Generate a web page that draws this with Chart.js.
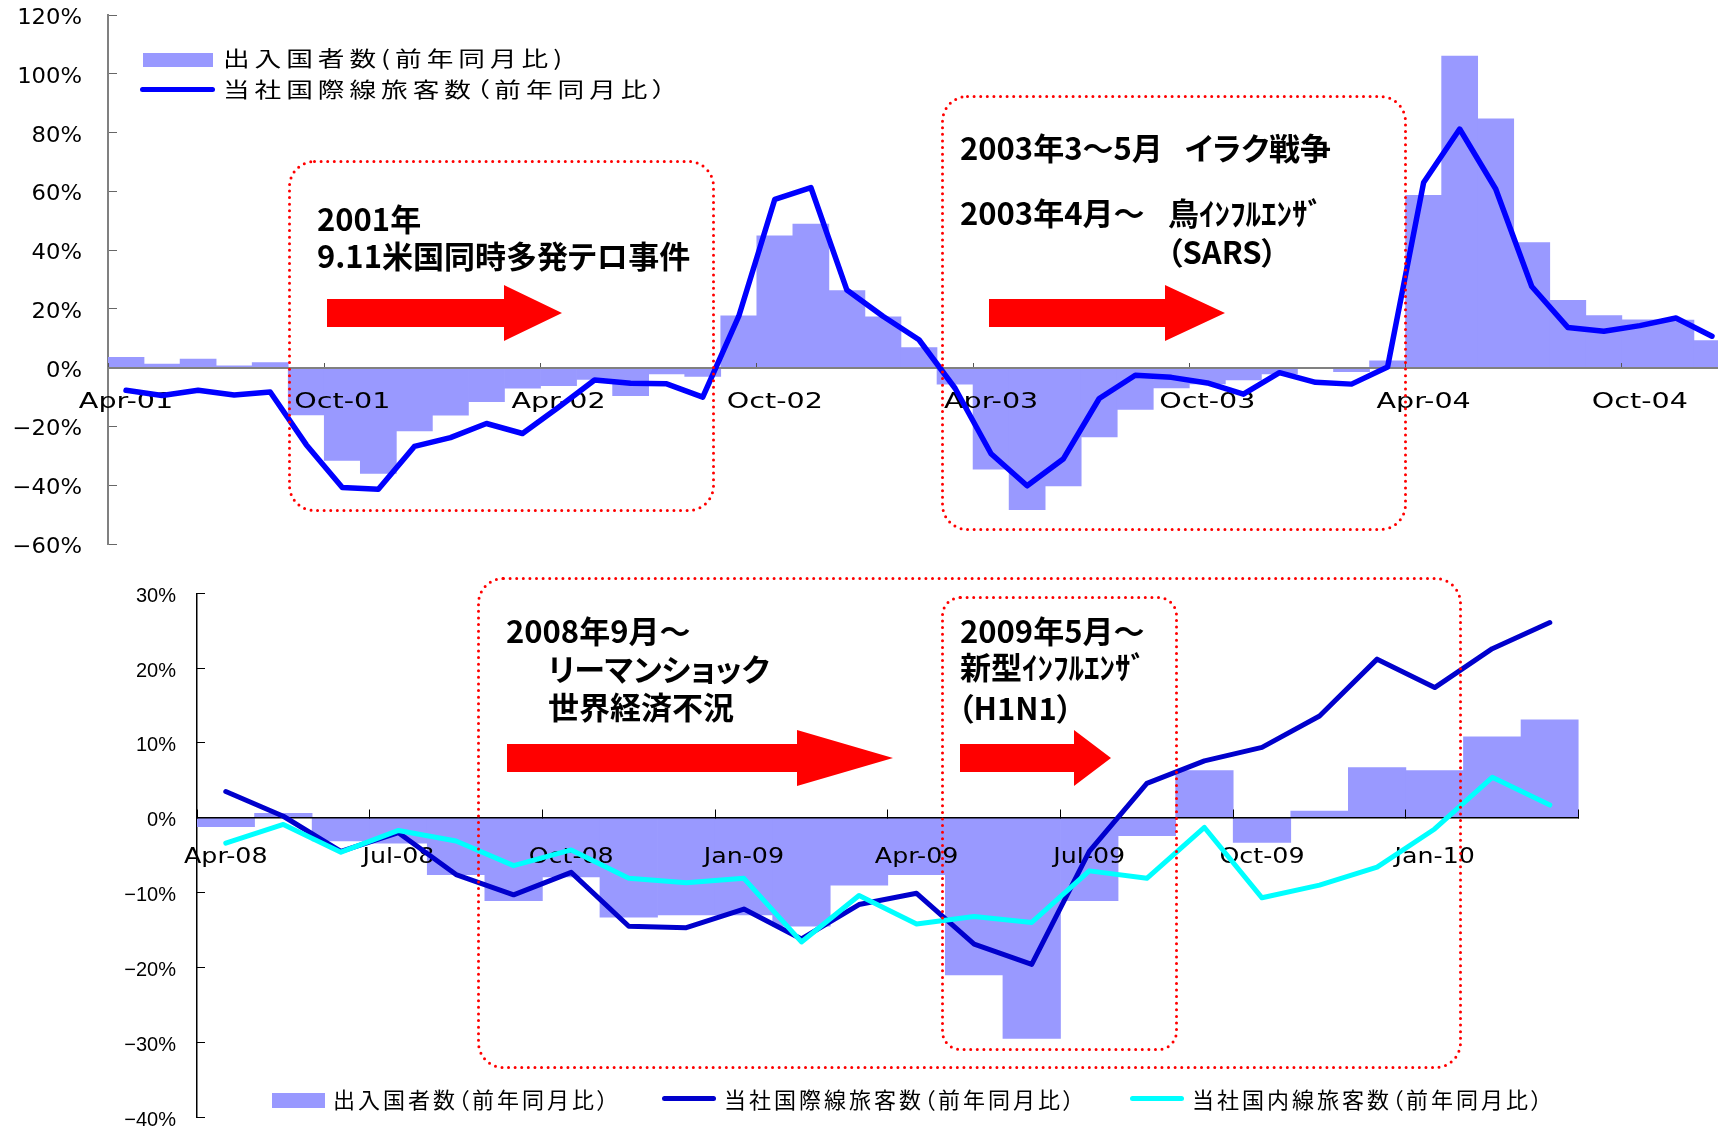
<!DOCTYPE html>
<html>
<head>
<meta charset="utf-8">
<script src="https://cdn.jsdelivr.net/npm/chart.js@4.4.1/dist/chart.umd.min.js"></script>
<style>
html, body { margin: 0; padding: 0; background: #fff; overflow: hidden; }
#wrap { position: relative; width: 1718px; height: 1129px; overflow: hidden; }
canvas { position: absolute; left: 0; }
#topChart { top: 0; }
#bottomChart { top: 570px; }
svg { position: absolute; left: 0; top: 0; }
.t { position: absolute; white-space: nowrap; line-height: 1; font-family: "Noto Sans CJK JP"; color: #000; font-feature-settings: "palt"; }
.note { font-size: 31px; font-weight: 700; }
.lgA { font-size: 21px; letter-spacing: 3.9px; transform: scaleX(1.27); transform-origin: 0 0; }
.lgB { font-size: 22px; letter-spacing: 3px; }
.sw { position: absolute; }
</style>
</head>
<body>
<div id="wrap">
  <canvas id="topChart" width="1745" height="565"></canvas>
  <canvas id="bottomChart" width="1718" height="559"></canvas>

  <svg width="1718" height="1129">
    <g fill="none" stroke="#FF0000" stroke-width="3" stroke-dasharray="0 6.6" stroke-linecap="round">
      <rect x="289.5" y="161.5" width="424" height="349" rx="25"/>
      <rect x="942.5" y="96.5" width="463" height="433" rx="25"/>
      <rect x="478.5" y="578.5" width="982" height="489" rx="25"/>
      <rect x="942.5" y="597.5" width="234" height="452" rx="18"/>
    </g>
    <g fill="#FF0000">
      <polygon points="327,299 504,299 504,285 562,313 504,341 504,327 327,327"/>
      <polygon points="989,299 1165,299 1165,285 1225,313 1165,341 1165,327 989,327"/>
      <polygon points="507,744 797,744 797,730 893,758 797,786 797,772 507,772"/>
      <polygon points="960,744 1074,744 1074,730 1111,758 1074,786 1074,772 960,772"/>
    </g>
  </svg>

  <!-- legend, top chart -->
  <div class="sw" style="left:143px;top:53px;width:70px;height:14px;background:#9999FF"></div>
  <div class="sw" style="left:140px;top:86.5px;width:75px;height:5px;border-radius:3px;background:#0000FF"></div>
  <div class="t lgA" style="left:223px;top:47px">出入国者数(前年同月比)</div>
  <div class="t lgA" style="left:223px;top:78px">当社国際線旅客数（前年同月比）</div>

  <!-- notes, top chart -->
  <div class="t note" style="left:317px;top:201.5px">2001年</div>
  <div class="t note" style="left:317px;top:238.5px">9.11米国同時多発テロ事件</div>
  <div class="t note" style="left:960px;top:130.5px">2003年3～5月</div>
  <div class="t note" style="left:1185px;top:130.5px">イラク戦争</div>
  <div class="t note" style="left:960px;top:195.5px">2003年4月～</div>
  <div class="t note" style="left:1168px;top:195.5px">鳥ｲﾝﾌﾙｴﾝｻﾞ</div>
  <div class="t note" style="left:1167px;top:234.5px">（SARS）</div>

  <!-- notes, bottom chart -->
  <div class="t note" style="left:506px;top:613.5px">2008年9月～</div>
  <div class="t note" style="left:548px;top:651.5px">リーマンショック</div>
  <div class="t note" style="left:548px;top:690px">世界経済不況</div>
  <div class="t note" style="left:960px;top:613.5px">2009年5月～</div>
  <div class="t note" style="left:960px;top:650px">新型ｲﾝﾌﾙｴﾝｻﾞ</div>
  <div class="t note" style="left:958px;top:690.5px">（H1N1）</div>

  <!-- legend, bottom chart -->
  <div class="sw" style="left:272px;top:1093px;width:53px;height:15px;background:#9999FF"></div>
  <div class="sw" style="left:662px;top:1095.5px;width:54px;height:5.5px;border-radius:3px;background:#0000CC"></div>
  <div class="sw" style="left:1130px;top:1095.5px;width:54px;height:5.5px;border-radius:3px;background:#00FFFF"></div>
  <div class="t lgB" style="left:333px;top:1087px">出入国者数（前年同月比）</div>
  <div class="t lgB" style="left:724px;top:1087px">当社国際線旅客数（前年同月比）</div>
  <div class="t lgB" style="left:1192px;top:1087px">当社国内線旅客数（前年同月比）</div>
</div>

<script>
// 2001-2004 //
const months01 = [
  'Apr-01', 'May-01', 'Jun-01', 'Jul-01', 'Aug-01', 'Sep-01', 'Oct-01', 'Nov-01', 'Dec-01',
  'Jan-02', 'Feb-02', 'Mar-02', 'Apr-02', 'May-02', 'Jun-02', 'Jul-02', 'Aug-02', 'Sep-02', 'Oct-02', 'Nov-02', 'Dec-02',
  'Jan-03', 'Feb-03', 'Mar-03', 'Apr-03', 'May-03', 'Jun-03', 'Jul-03', 'Aug-03', 'Sep-03', 'Oct-03', 'Nov-03', 'Dec-03',
  'Jan-04', 'Feb-04', 'Mar-04', 'Apr-04', 'May-04', 'Jun-04', 'Jul-04', 'Aug-04', 'Sep-04', 'Oct-04', 'Nov-04', 'Dec-04'
];
// 出入国者数 (前年同月比, %)
const visitors01 = [
  3.5, 1.2, 2.9, 0.6, 1.7, -16.1, -31.6, -36.0, -21.5,
  -16.2, -11.6, -7.0, -6.1, -4.0, -9.5, -2.1, -3.0, 17.6, 44.9, 48.9, 26.2,
  17.3, 6.8, -5.6, -34.5, -48.3, -40.2, -23.6, -14.2, -6.9, -5.5, -4.2, -2.1,
  -0.2, -1.4, 2.3, 58.6, 106.0, 84.7, 42.6, 22.9, 17.7, 16.3, 16.2, 9.2
];
// 当社国際線旅客数 (前年同月比, %)
const intlPax01 = [
  -7.7, -9.5, -7.7, -9.3, -8.3, -26.2, -40.8, -41.4, -26.8,
  -23.8, -19.0, -22.4, -13.5, -4.2, -5.3, -5.5, -10.0, 17.5, 57.3, 61.3, 26.4,
  17.5, 9.5, -7.0, -29.3, -40.2, -31.1, -10.5, -2.6, -3.3, -5.2, -9.0, -1.7,
  -5.0, -5.6, 0.2, 63.0, 81.2, 60.8, 27.6, 13.7, 12.4, 14.3, 16.9, 10.7
];
const yRange01 = [-60, 120, 20];

// 2008-2010 //
const months08 = [
  'Apr-08', 'May-08', 'Jun-08', 'Jul-08', 'Aug-08', 'Sep-08', 'Oct-08', 'Nov-08', 'Dec-08',
  'Jan-09', 'Feb-09', 'Mar-09', 'Apr-09', 'May-09', 'Jun-09', 'Jul-09', 'Aug-09', 'Sep-09', 'Oct-09', 'Nov-09', 'Dec-09',
  'Jan-10', 'Feb-10', 'Mar-10'
];
const visitors08 = [
  -1.2, 0.6, -3.1, -3.4, -7.6, -11.1, -7.9, -13.3, -13.0,
  -13.0, -14.5, -9.0, -7.6, -21.0, -29.5, -11.1, -2.4, 6.3, -3.3, 0.9, 6.7,
  6.3, 10.8, 13.1
];
const intlPax08 = [
  3.5, 0.2, -4.5, -2.0, -7.6, -10.3, -7.3, -14.5, -14.7,
  -12.2, -16.2, -11.6, -10.1, -16.9, -19.6, -4.5, 4.6, 7.6, 9.4, 13.6, 21.2,
  17.4, 22.6, 26.1
];
// 当社国内線旅客数 (前年同月比, %)
const domPax08 = [
  -3.4, -0.9, -4.6, -1.7, -3.1, -6.4, -4.3, -8.1, -8.7,
  -8.1, -16.6, -10.4, -14.2, -13.2, -14.0, -7.1, -8.1, -1.3, -10.7, -9.0, -6.6,
  -1.5, 5.4, 1.7
];
const yRange08 = [-40, 30, 10];

const barColor = '#9999FF';

function pct(v) {
  return (v < 0 ? '\u2212' + Math.abs(v) : v) + '%';
}

// Tick labels in the picture are wider than our fonts, so stretch them.
// The category axis (zero line, ticks, labels) is drawn after the bars,
// but before the lines, like in the picture.
function prepAxis(axis, sx, dy, late) {
  axis.paddingTop = axis.paddingBottom = axis.paddingLeft = axis.paddingRight = 0;
  if (axis._prepped) return;
  axis._prepped = true;
  const drawLabels = function (area) {
    const ctx = this.ctx;
    const items = this.getLabelItems(area);
    ctx.save();
    ctx.scale(sx, 1);
    for (const it of items) {
      if (!it.label) continue;
      const o = it.options;
      ctx.font = it.font.string;
      ctx.fillStyle = o.color;
      ctx.textAlign = o.textAlign;
      ctx.textBaseline = o.textBaseline;
      ctx.fillText(it.label, o.translation[0] / sx, o.translation[1] + it.textOffset + dy);
    }
    ctx.restore();
  };
  if (late) {
    const grid = axis.drawGrid;
    const border = axis.drawBorder;
    axis._lateDraw = area => {
      grid.call(axis, area);
      border.call(axis);
      drawLabels.call(axis, area);
    };
    axis.drawGrid = () => {};
    axis.drawBorder = () => {};
    axis.drawLabels = () => {};
  } else {
    axis.drawLabels = drawLabels;
  }
}

const lateAxis = {
  id: 'lateAxis',
  afterDatasetDraw(chart, args) {
    const x = chart.scales.x;
    if (args.meta.type === 'bar' && x._lateDraw) x._lateDraw(chart.chartArea);
  }
};

function everyNth(n, color) {
  return c => (c.index === undefined || c.index % n === 0) ? color : 'rgba(0,0,0,0)';
}

function renderTopChart() {
  const ctx = document.getElementById('topChart').getContext('2d');
  new Chart(ctx, {
    type: 'bar',
    data: {
      labels: months01,
      datasets: [{
        type: 'line',
        label: '当社国際線旅客数（前年同月比）',
        data: intlPax01,
        borderColor: '#0000FF',
        borderWidth: 5.5,
        pointRadius: 0,
        tension: 0,
        borderJoinStyle: 'round',
        borderCapStyle: 'round',
        fill: false,
        order: 1
      }, {
        type: 'bar',
        label: '出入国者数(前年同月比)',
        data: visitors01,
        backgroundColor: barColor,
        borderWidth: 0,
        barPercentage: 1,
        categoryPercentage: 1,
        order: 2
      }]
    },
    options: {
      responsive: false,
      animation: false,
      layout: { padding: { left: 0, top: 15, right: 15, bottom: 21 } },
      plugins: { legend: { display: false }, tooltip: { enabled: false } },
      scales: {
        x: {
          offset: true,
          position: { y: 0 },
          grid: { offset: true, drawOnChartArea: false, tickLength: -6, tickColor: everyNth(6, '#555') },
          border: { display: true, color: '#808080', width: 2 },
          ticks: {
            autoSkip: false, maxRotation: 0, minRotation: 0, padding: 27.5, color: '#000',
            font: { family: 'DejaVu Sans', size: 22 },
            callback: function (v, i) { return i % 6 === 0 ? this.getLabelForValue(v) : ''; }
          },
          afterFit: axis => prepAxis(axis, 1.3, 0, true)
        },
        y: {
          min: yRange01[0], max: yRange01[1],
          grid: { drawOnChartArea: false, tickLength: -9, tickColor: '#666' },
          border: { display: true, color: '#808080', width: 2 },
          ticks: {
            stepSize: yRange01[2], padding: 35, color: '#000',
            font: { family: 'DejaVu Sans', size: 21 },
            callback: pct
          },
          afterFit: axis => { axis.width = 108; prepAxis(axis, 1.08, 3.5, false); }
        }
      }
    },
    plugins: [lateAxis]
  });
}

function renderBottomChart() {
  const ctx = document.getElementById('bottomChart').getContext('2d');
  new Chart(ctx, {
    type: 'bar',
    data: {
      labels: months08,
      datasets: [{
        type: 'line',
        label: '当社国内線旅客数（前年同月比）',
        data: domPax08,
        borderColor: '#00FFFF',
        borderWidth: 5,
        pointRadius: 0,
        tension: 0,
        borderJoinStyle: 'round',
        borderCapStyle: 'round',
        fill: false,
        order: 0
      }, {
        type: 'line',
        label: '当社国際線旅客数（前年同月比）',
        data: intlPax08,
        borderColor: '#0000CC',
        borderWidth: 5,
        pointRadius: 0,
        tension: 0,
        borderJoinStyle: 'round',
        borderCapStyle: 'round',
        fill: false,
        order: 1
      }, {
        type: 'bar',
        label: '出入国者数（前年同月比）',
        data: visitors08,
        backgroundColor: barColor,
        borderWidth: 0,
        barPercentage: 1,
        categoryPercentage: 1,
        order: 2
      }]
    },
    options: {
      responsive: false,
      animation: false,
      layout: { padding: { left: 0, top: 23.3, right: 139.4, bottom: 12 } },
      plugins: { legend: { display: false }, tooltip: { enabled: false } },
      scales: {
        x: {
          offset: true,
          position: { y: 0 },
          grid: { offset: true, drawOnChartArea: false, tickLength: -9, tickColor: everyNth(3, '#000') },
          border: { display: true, color: '#000', width: 1.5 },
          ticks: {
            autoSkip: false, maxRotation: 0, minRotation: 0, padding: 35, color: '#000',
            font: { family: 'DejaVu Sans', size: 22 },
            callback: function (v, i) { return i % 3 === 0 ? this.getLabelForValue(v) : ''; }
          },
          afterFit: axis => prepAxis(axis, 1.15, 0, true)
        },
        y: {
          min: yRange08[0], max: yRange08[1],
          grid: { drawOnChartArea: false, tickLength: -8, tickColor: '#000' },
          border: { display: true, color: '#000', width: 1.5 },
          ticks: {
            stepSize: yRange08[2], padding: 29, color: '#000',
            font: { family: 'Liberation Sans', size: 20 },
            callback: pct
          },
          afterFit: axis => { axis.width = 197; prepAxis(axis, 1, 3, false); }
        }
      }
    },
    plugins: [lateAxis]
  });
}

document.addEventListener('DOMContentLoaded', () => {
  renderTopChart();
  renderBottomChart();
});
</script>
</body>
</html>
